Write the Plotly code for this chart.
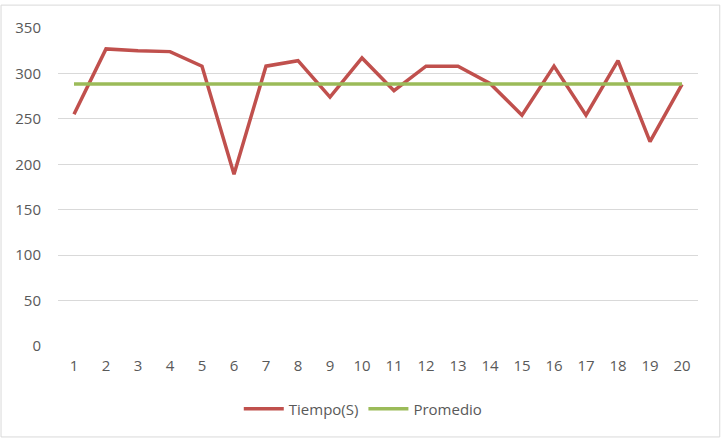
import plotly.graph_objects as go

categorias = list(range(1, 21))
tiempo = [255, 327, 325, 324, 308, 189, 308, 314, 274, 317,
          281, 308, 308, 289, 254, 308, 254, 314, 225, 288]
promedio = [288.5] * 20
y_ticks = [0, 50, 100, 150, 200, 250, 300, 350]

fig = go.Figure()
fig.add_trace(go.Scatter(x=categorias, y=tiempo, mode="lines", name="Tiempo(S)",
                         line=dict(color="#C0504D", width=3.5)))
fig.add_trace(go.Scatter(x=categorias, y=promedio, mode="lines", name="Promedio",
                         line=dict(color="#9BBB59", width=3.5)))

font_fam = "Open Sans, Liberation Sans, Arial, sans-serif"
fig.update_layout(
    width=723, height=442,
    margin=dict(l=58, r=25, t=28, b=96),
    paper_bgcolor="white", plot_bgcolor="white",
    font=dict(family=font_fam, size=15, color="#595959"),
    showlegend=True,
    legend=dict(orientation="h", x=0.477, xanchor="center", y=-0.198, yanchor="middle",
                font=dict(size=15, color="#595959"), itemwidth=40, tracegroupgap=0,
                bgcolor="rgba(0,0,0,0)"),
    xaxis=dict(range=[0.5, 20.5], tickmode="array", tickvals=categorias,
               ticktext=[str(c) for c in categorias], showgrid=False, zeroline=False,
               showline=False, ticks="outside", ticklen=6, tickcolor="rgba(0,0,0,0)"),
    yaxis=dict(range=[0, 350], tickmode="array", tickvals=y_ticks,
               showgrid=True, gridcolor="#D9D9D9", gridwidth=1, zeroline=False,
               showline=False, ticks="outside", ticklen=13, tickcolor="rgba(0,0,0,0)"),
    shapes=[dict(type="rect", xref="paper", yref="paper",
                 x0=-0.089, x1=1.034, y0=-0.286, y1=1.072,
                 line=dict(color="#D9D9D9", width=1), fillcolor="rgba(0,0,0,0)",
                 layer="below")],
)
fig.write_html("out.html")
